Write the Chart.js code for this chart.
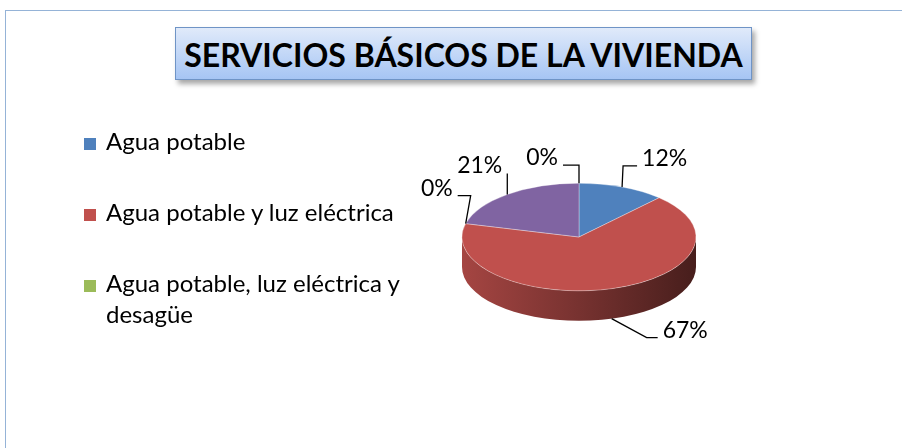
<!DOCTYPE html>
<html>
<head>
<meta charset="utf-8">
<script src="https://cdn.jsdelivr.net/npm/chart.js@4.4.0/dist/chart.umd.min.js"></script>
<style>
  html, body { margin: 0; padding: 0; background: #fff; }
  #wrap { position: relative; width: 902px; height: 448px; overflow: hidden; font-family: Lato, "Open Sans", sans-serif; }
  #frame { position: absolute; left: 5px; top: 10px; width: 1000px; height: 1000px;
           border-top: 1px solid #95b3d7; border-left: 1px solid #95b3d7; }
  #title { position: absolute; left: 175px; top: 27px; width: 575px; height: 51px;
           border: 1px solid #6f94c6; background: linear-gradient(#e0eafa, #a6c5f4);
           box-shadow: 3px 4px 5px rgba(0,0,0,.35);
           font-weight: bold; font-size: 32px; line-height: 53px; text-align: center; color: #000; }
  #chart { position: absolute; left: 0; top: 0; }
  #legend { position: absolute; left: 84px; top: 125px; margin: 0; padding: 0; list-style: none; }
  #legend li { position: relative; padding-left: 22px; width: 330px; font-size: 24px; line-height: 31px;
               margin-bottom: 40px; color: #000; }
  #legend li span { position: absolute; left: 0; top: 13px; width: 12px; height: 12px; }
</style>
</head>
<body>
<div id="wrap">
  <div id="frame"></div>
  <div id="title">SERVICIOS BÁSICOS DE LA VIVIENDA</div>
  <canvas id="chart" width="902" height="448"></canvas>
  <ul id="legend"></ul>
</div>
<script>
// ---- data ----
const categories = ['Agua potable', 'Agua potable y luz eléctrica', 'Agua potable, luz eléctrica y desagüe', '', ''];
const values = [12, 67, 0, 21, 0];
const colors = ['#4f81bd', '#c0504d', '#9bbb59', '#8064a2', '#4bacc6'];

// leader-line layout for each slice label (offsets from the slice anchor)
const labelLayout = [
  { elbow: [1, -21], arm: 14 },
  { elbow: [35, 19], arm: 11 },
  { elbow: [5, -28], arm: -13 },
  { elbow: [0, -21], arm: 0, side: 'right' },
  { elbow: [0, -18], arm: -16 }
];

function shade(hex, f) {
  const n = parseInt(hex.slice(1), 16);
  const r = Math.round(((n >> 16) & 255) * f), g = Math.round(((n >> 8) & 255) * f), b = Math.round((n & 255) * f);
  return `rgb(${r},${g},${b})`;
}

// parts of an arc that face the viewer (lower half of the ellipse)
function frontParts(s, e) {
  const parts = [];
  for (let k = -1; k <= 1; k++) {
    const a = Math.max(s, 2 * Math.PI * k), b = Math.min(e, Math.PI + 2 * Math.PI * k);
    if (b > a) parts.push([a, b]);
  }
  return parts;
}

/* ---------------- fake 3D pie: sides + squashed top ---------------- */
const pie3d = {
  id: 'pie3d',
  beforeDatasetsDraw(chart, args, opts) {
    const ctx = chart.ctx;
    const arcs = chart.getDatasetMeta(0).data;
    const { x: cx, y: cy, outerRadius: r } = arcs[0];
    const ry = r * opts.tilt;
    arcs.forEach((arc, i) => {
      frontParts(arc.startAngle, arc.endAngle).forEach(([a, b]) => {
        ctx.beginPath();
        ctx.ellipse(cx, cy, r, ry, 0, a, b);
        ctx.ellipse(cx, cy + opts.depth, r, ry, 0, b, a, true);
        ctx.closePath();
        const g = ctx.createLinearGradient(cx - r, 0, cx + r, 0);
        g.addColorStop(0, shade(colors[i], 0.86));
        g.addColorStop(0.5, shade(colors[i], 0.62));
        g.addColorStop(1, shade(colors[i], 0.37));
        ctx.fillStyle = g;
        ctx.fill();
      });
    });
    ctx.save();
    ctx.translate(0, cy);
    ctx.scale(1, opts.tilt);
    ctx.translate(0, -cy);
  },
  afterDatasetsDraw(chart, args, opts) {
    const ctx = chart.ctx;
    ctx.restore();
    const arcs = chart.getDatasetMeta(0).data;
    const { x: cx, y: cy, outerRadius: r } = arcs[0];
    const ry = r * opts.tilt;
    const total = values.reduce((a, b) => a + b, 0);
    ctx.save();
    ctx.strokeStyle = '#000';
    ctx.lineWidth = 1.3;
    ctx.fillStyle = '#000';
    ctx.font = '23px Lato, "Open Sans", sans-serif';
    ctx.textBaseline = 'alphabetic';
    arcs.forEach((arc, i) => {
      const lay = labelLayout[i];
      const mid = (arc.startAngle + arc.endAngle) / 2;
      const ax = cx + r * Math.cos(mid);
      let ay = cy + ry * Math.sin(mid);
      if (Math.sin(mid) > 0) ay += opts.depth;
      const ex = ax + lay.elbow[0], ey = ay + lay.elbow[1];
      const hx = ex + lay.arm;
      ctx.beginPath();
      ctx.moveTo(ax, ay);
      ctx.lineTo(ex, ey);
      ctx.lineTo(hx, ey);
      ctx.stroke();
      const right = lay.arm < 0 || lay.side === 'right';
      ctx.textAlign = right ? 'right' : 'left';
      ctx.fillText(Math.round(values[i] / total * 100) + '%', hx + (right ? -5 : 5), ey);
    });
    ctx.restore();
  }
};

const chart = new Chart(document.getElementById('chart'), {
  type: 'pie',
  data: {
    labels: categories,
    datasets: [{
      data: values,
      backgroundColor: colors,
      borderColor: 'rgba(255,255,255,0.45)',
      borderWidth: 1,
      hoverOffset: 0
    }]
  },
  options: {
    responsive: false,
    animation: false,
    events: [],
    layout: { padding: { left: 461.5, right: 205.5, top: 119.5, bottom: 93.5 } },
    plugins: {
      legend: { display: false },
      tooltip: { enabled: false },
      pie3d: { tilt: 0.46, depth: 30 }
    }
  },
  plugins: [pie3d]
});

// html legend, built from the chart's own labels/colours
const legendEl = document.getElementById('legend');
chart.data.labels.forEach((lab, i) => {
  if (!lab) return;
  const li = document.createElement('li');
  li.innerHTML = `<span style="background:${colors[i]}"></span>${lab}`;
  legendEl.appendChild(li);
});
</script>
</body>
</html>
